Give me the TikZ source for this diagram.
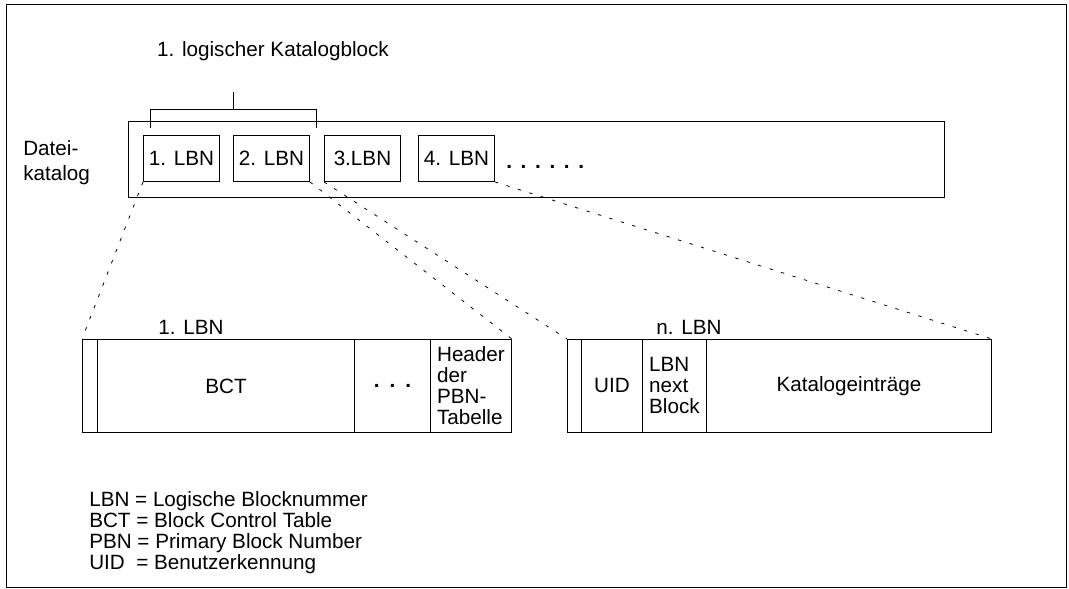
\documentclass[tikz,border=0pt]{standalone}
\usepackage{fontspec}
\setmainfont{Liberation Sans}
\tikzset{
	lbnbox/.style={draw,line width=0.7pt,minimum width=57pt,minimum height=34.5pt,inner sep=0pt,anchor=north west},
	cell/.style={draw,line width=0.7pt,minimum height=69.75pt,inner sep=2pt,anchor=north west,align=left},
	zoomline/.style={line width=0.6pt,dash pattern=on 2.5pt off 6.5pt},
}

\begin{document}
\begin{tikzpicture}[x=0.75pt,y=-0.75pt,font=\fontsize{15.5pt}{15.75pt}\selectfont]
	\useasboundingbox (0,0) rectangle (1069,588);
	\draw[line width=0.7pt] (6,4) rectangle (1066,587);

	\node[anchor=base] (titel) at (273,57) {1. logischer Katalogblock};
	\draw[line width=0.6pt] (233,92) -- (233,109) (150,128) -- (150,109) -- (316,109) -- (316,128);

	\node[anchor=north west,inner sep=0pt,align=left,font=\fontsize{15.5pt}{19pt}\selectfont] (datei) at (23,140) {Datei-\\katalog};
	\node[draw,line width=0.7pt,minimum width=612pt,minimum height=57pt,anchor=north west] (katalog) at (128,121) {};

	\node[lbnbox] (b1) at (143,135) {1. LBN};
	\node[lbnbox] (b2) at (233,135) {2. LBN};
	\node[lbnbox] (b3) at (324,135) {3.LBN};
	\node[lbnbox] (b4) at (418,135) {4. LBN};
	\node[anchor=base west,inner sep=0pt,font=\fontsize{15.5pt}{15.75pt}\selectfont\bfseries] (punkte) at (506,168) {.\kern6.5pt.\kern6.5pt.\kern6.5pt.\kern6.5pt.\kern6.5pt.};

	\node[cell,minimum width=11.25pt] (a0) at (82,339) {};
	\node[cell,minimum width=192.75pt] (a1) at (97,339) {BCT};
	\node[cell,minimum width=57pt] (a2) at (354,339) {\bfseries .\kern7.5pt.\kern7.5pt.};
	\node[cell,minimum width=60.75pt] (a3) at (430,339) {Header\\der\\PBN-\\Tabelle};
	\node (lbna) at (191,327) {1. LBN};

	\node[cell,minimum width=10.5pt] (c0) at (567,339) {};
	\node[cell,minimum width=45.75pt] (c1) at (581,339) {UID};
	\node[cell,minimum width=48pt] (c2) at (642,339) {LBN\\next\\Block};
	\node[cell,minimum width=213.75pt] (c3) at (706,339) {Katalogeinträge};
	\node (lbnn) at (689,327) {n. LBN};

	\draw[zoomline] (b1.south west) -- (a0.north west);
	\draw[zoomline] (b2.south east) -- (a3.north east);
	\draw[zoomline] (b3.south west) -- (c0.north west);
	\draw[zoomline] (b4.south east) -- (c3.north east);

	\node[anchor=north west,inner sep=0pt,align=left] (legende) at (89,491) {LBN = Logische Blocknummer\\BCT = Block Control Table\\PBN = Primary Block Number\\UID\ \ = Benutzerkennung};
\end{tikzpicture}
\end{document}
